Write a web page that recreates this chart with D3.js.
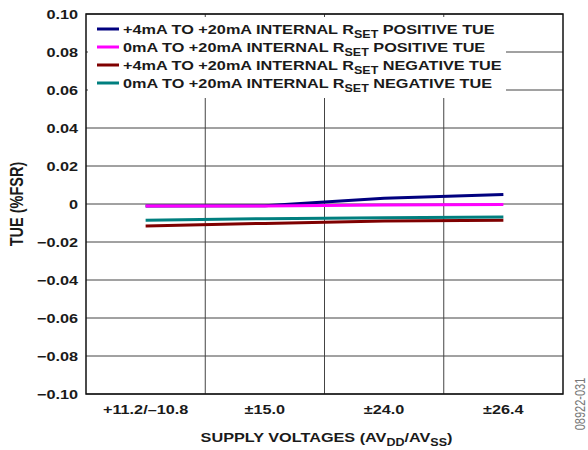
<!DOCTYPE html>
<html>
<head>
<meta charset="utf-8">
<script src="https://cdn.jsdelivr.net/npm/d3@7"></script>
<style>
  body { margin: 0; background: #fff; }
  text { font-family: "Liberation Sans", Arial, sans-serif; font-weight: bold; fill: #1a1a1a; }
</style>
</head>
<body>
<div id="chart"></div>
<script>
// categories and series (values in %FSR)
var categories = ["+11.2/\u201310.8", "\u00b115.0", "\u00b124.0", "\u00b126.4"];
var pos4to20 = [-0.001, -0.0009, 0.003, 0.005];
var pos0to20 = [-0.001, -0.001, -0.0005, -0.0002];
var neg4to20 = [-0.0116, -0.0102, -0.009, -0.0086];
var neg0to20 = [-0.0086, -0.0077, -0.0072, -0.0068];
var yTicks = [0.10, 0.08, 0.06, 0.04, 0.02, 0, -0.02, -0.04, -0.06, -0.08, -0.10];

var series = [
    {pre: "+4mA TO +20mA INTERNAL R", post: " POSITIVE TUE", color: "#00007f", values: pos4to20},
    {pre: "0mA TO +20mA INTERNAL R", post: " POSITIVE TUE", color: "#ff00ff", values: pos0to20},
    {pre: "+4mA TO +20mA INTERNAL R", post: " NEGATIVE TUE", color: "#7f0000", values: neg4to20},
    {pre: "0mA TO +20mA INTERNAL R", post: " NEGATIVE TUE", color: "#007f7f", values: neg0to20}
];

var svgWidth = 588, svgHeight = 450;
var margin = {top: 14, right: 25, bottom: 56, left: 86};
var width = svgWidth - margin.left - margin.right;
var height = svgHeight - margin.top - margin.bottom;

// the original artwork has wide lettering, so text is stretched a bit sideways
var stretch = 1.25;

var svg = d3.select("#chart").append("svg")
    .attr("width", svgWidth)
    .attr("height", svgHeight);

var g = svg.append("g")
    .attr("transform", `translate(${margin.left}, ${margin.top})`);

var xScale = d3.scaleBand().domain(categories).range([0, width]).padding(0);
var yScale = d3.scaleLinear().domain([-0.1, 0.1]).range([height, 0]);

// gridlines
g.append("g").selectAll("line")
    .data(yTicks)
    .enter().append("line")
    .attr("x1", 0).attr("x2", width)
    .attr("y1", d => yScale(d)).attr("y2", d => yScale(d))
    .attr("stroke", "#444").attr("stroke-width", 1);

g.append("g").selectAll("line")
    .data(categories.slice(1))
    .enter().append("line")
    .attr("x1", d => xScale(d)).attr("x2", d => xScale(d))
    .attr("y1", 0).attr("y2", height)
    .attr("stroke", "#444").attr("stroke-width", 1);

// series lines
var line = d3.line()
    .x((d, i) => xScale(categories[i]) + xScale.bandwidth() / 2)
    .y(d => yScale(d));

g.append("g").selectAll("path")
    .data(series)
    .enter().append("path")
    .attr("d", d => line(d.values))
    .attr("fill", "none")
    .attr("stroke", d => d.color)
    .attr("stroke-width", 3);

// legend with white box over the grid
var legend = g.append("g");
legend.append("rect")
    .attr("x", 2).attr("y", 3)
    .attr("width", 418).attr("height", 81)
    .attr("fill", "#fff");

var rows = legend.selectAll("g.row")
    .data(series)
    .enter().append("g")
    .attr("class", "row")
    .attr("transform", (d, i) => `translate(0, ${15 + i * 18})`);

rows.append("line")
    .attr("x1", 11).attr("x2", 33)
    .attr("y1", 0).attr("y2", 0)
    .attr("stroke", d => d.color)
    .attr("stroke-width", 3);

var lt = rows.append("text")
    .attr("transform", `translate(37, 4.5) scale(${stretch}, 1)`)
    .style("font-size", "13px");
lt.append("tspan").text(d => d.pre);
lt.append("tspan").attr("dy", 4).style("font-size", "10px").text("SET");
lt.append("tspan").attr("dy", -4).text(d => d.post);

// frame
g.append("rect")
    .attr("x", 0).attr("y", 0)
    .attr("width", width).attr("height", height)
    .attr("fill", "none")
    .attr("stroke", "#111").attr("stroke-width", 1.5);

// y tick labels
g.append("g").selectAll("text")
    .data(yTicks)
    .enter().append("text")
    .attr("transform", d => `translate(-8, ${yScale(d) + 4.5}) scale(${stretch}, 1)`)
    .attr("text-anchor", "end")
    .style("font-size", "13px")
    .text(d => d === 0 ? "0" : d3.format(".2f")(d).replace("-", "\u2013"));

// x tick labels
g.append("g").selectAll("text")
    .data(categories)
    .enter().append("text")
    .attr("transform", d => `translate(${xScale(d) + xScale.bandwidth() / 2}, ${height + 20}) scale(${stretch}, 1)`)
    .attr("text-anchor", "middle")
    .style("font-size", "13px")
    .text(d => d);

// axis titles
var xTitle = g.append("text")
    .attr("transform", `translate(${width / 2 + 2}, ${height + 48}) scale(${stretch}, 1)`)
    .attr("text-anchor", "middle")
    .style("font-size", "13px");
xTitle.append("tspan").text("SUPPLY VOLTAGES (AV");
xTitle.append("tspan").attr("dy", 4).style("font-size", "10px").text("DD");
xTitle.append("tspan").attr("dy", -4).text("/AV");
xTitle.append("tspan").attr("dy", 4).style("font-size", "10px").text("SS");
xTitle.append("tspan").attr("dy", -4).text(")");

svg.append("text")
    .attr("transform", `translate(23, ${margin.top + yScale(0)}) scale(${stretch}, 1) rotate(-90)`)
    .attr("text-anchor", "middle")
    .style("font-size", "14.5px")
    .text("TUE (%FSR)");

// figure number
svg.append("text")
    .attr("transform", `translate(585, 404) scale(${stretch}, 1) rotate(-90)`)
    .attr("text-anchor", "middle")
    .style("font-size", "11px")
    .style("font-weight", "normal")
    .style("fill", "#777")
    .text("08922-031");
</script>
</body>
</html>
